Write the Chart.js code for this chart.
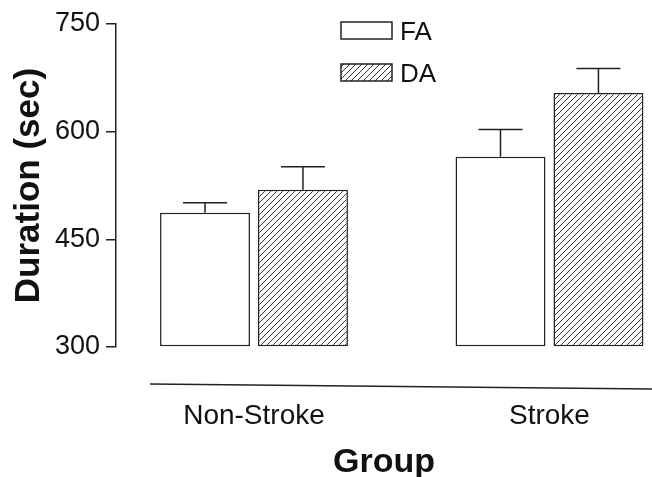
<!DOCTYPE html>
<html>
<head>
<meta charset="utf-8">
<script src="https://cdn.jsdelivr.net/npm/chart.js@4.4.0/dist/chart.umd.min.js"></script>
<style>
  body { margin: 0; background: #fff; }
  #wrap { width: 652px; height: 477px; }
</style>
</head>
<body>
<div id="wrap"><canvas id="durationChart"></canvas></div>
<script>
const groups = ['Non-Stroke', 'Stroke'];
const faValues = [487, 565];
const daValues = [519, 654];
const faErrors = [14, 38];
const daErrors = [32, 34];
const yTicks = [300, 450, 600, 750];

Chart.defaults.font.family = "'Liberation Sans', Arial, sans-serif";

// diagonal hatch for the DA bars
function hatchPattern() {
  const c = document.createElement('canvas');
  c.width = 6; c.height = 6;
  const g = c.getContext('2d');
  g.fillStyle = '#fff';
  g.fillRect(0, 0, 6, 6);
  g.strokeStyle = '#333';
  g.lineWidth = 1;
  g.beginPath();
  g.moveTo(0, 6); g.lineTo(6, 0);
  g.moveTo(-1, 1); g.lineTo(1, -1);
  g.moveTo(5, 7); g.lineTo(7, 5);
  g.stroke();
  return g.createPattern(c, 'repeat');
}
const hatch = hatchPattern();

const errorBars = {
  id: 'errorBars',
  afterDatasetsDraw(chart) {
    const ctx = chart.ctx, y = chart.scales.y;
    chart.data.datasets.forEach((ds, i) => {
      chart.getDatasetMeta(i).data.forEach((bar, j) => {
        const top = y.getPixelForValue(ds.data[j].y + ds.errors[j]);
        ctx.save();
        ctx.strokeStyle = '#222';
        ctx.lineWidth = 1.5;
        ctx.beginPath();
        ctx.moveTo(bar.x, bar.y);
        ctx.lineTo(bar.x, top);
        ctx.moveTo(bar.x - 22, top);
        ctx.lineTo(bar.x + 22, top);
        ctx.stroke();
        ctx.restore();
      });
    });
  }
};

// separate baseline under the bars + the boxed legend
const extras = {
  id: 'extras',
  afterDraw(chart) {
    const ctx = chart.ctx, a = chart.chartArea;
    ctx.save();
    ctx.strokeStyle = '#222';
    ctx.lineWidth = 1.5;
    ctx.beginPath();
    ctx.moveTo(a.left + 34, a.bottom + 37);
    ctx.lineTo(chart.width, a.bottom + 42);
    ctx.stroke();

    const items = [['FA', '#fff', 22], ['DA', hatch, 64]];
    items.forEach(([label, fill, top]) => {
      ctx.fillStyle = fill;
      ctx.fillRect(341, top, 51, 17);
      ctx.strokeRect(341, top, 51, 17);
      ctx.fillStyle = '#111';
      ctx.font = "26px 'Liberation Sans', Arial, sans-serif";
      ctx.textBaseline = 'middle';
      ctx.fillText(label, 400, top + 11);
    });
    ctx.restore();
  }
};

new Chart(document.getElementById('durationChart'), {
  type: 'bar',
  data: {
    datasets: [
      {
        label: 'FA',
        data: faValues.map((v, i) => ({ x: i, y: v })),
        errors: faErrors,
        base: 300,
        backgroundColor: '#fff',
        borderColor: '#222',
        borderWidth: 1.5,
        borderSkipped: false,
        clip: false,
        categoryPercentage: 0.663,
        barPercentage: 0.918
      },
      {
        label: 'DA',
        data: daValues.map((v, i) => ({ x: i, y: v })),
        errors: daErrors,
        base: 300,
        backgroundColor: hatch,
        borderColor: '#222',
        borderWidth: 1.5,
        borderSkipped: false,
        clip: false,
        categoryPercentage: 0.663,
        barPercentage: 0.918
      }
    ]
  },
  options: {
    responsive: true,
    maintainAspectRatio: false,
    animation: false,
    layout: { padding: { top: 24, right: 0, left: 0, bottom: 0 } },
    plugins: { legend: { display: false }, tooltip: { enabled: false } },
    scales: {
      x: {
        type: 'linear',
        min: -0.467,
        max: 1.347,
        offset: false,
        afterBuildTicks: s => { s.ticks = groups.map((g, i) => ({ value: i })); },
        afterFit: s => { s.height = 130; },
        grid: { display: false, drawTicks: false, offset: false },
        border: { display: false },
        ticks: { padding: 52, color: '#111', font: { size: 28 }, autoSkip: false,
                 callback: (v, i) => groups[i] },
        title: { display: true, text: 'Group', color: '#111',
                 font: { size: 34, weight: 'bold' }, padding: { top: 0, bottom: -6 } }
      },
      y: {
        min: 300,
        max: 750,
        afterBuildTicks: s => { s.ticks = yTicks.map(v => ({ value: v })); },
        afterFit: s => { s.width = 116; },
        grid: { drawOnChartArea: false, tickLength: 10, color: '#222', lineWidth: 1.5 },
        border: { color: '#222', width: 1.5 },
        ticks: { padding: 6, color: '#111', font: { size: 27 } },
        title: { display: true, text: 'Duration (sec)', color: '#111',
                 font: { size: 35, weight: 'bold' }, padding: { top: 8, bottom: 0 } }
      }
    }
  },
  plugins: [errorBars, extras]
});
</script>
</body>
</html>
